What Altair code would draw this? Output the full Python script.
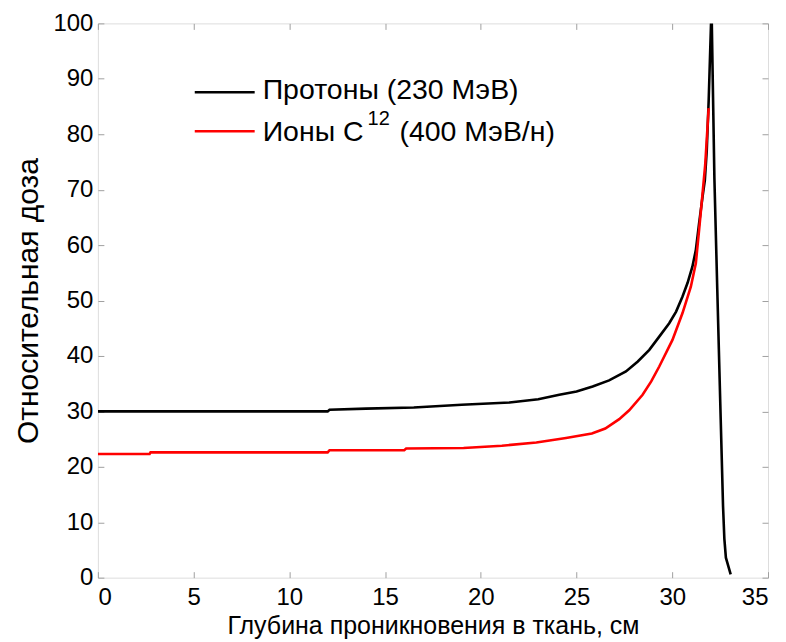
import altair as alt
import pandas as pd

# Protons (230 MeV) — depth (cm) vs relative dose
proton_x = [0, 12.0, 12.1, 14.0, 16.5, 19.0, 21.5, 23.0, 24.1, 25.0, 25.84, 26.7, 27.58, 28.2,
            28.8, 29.3, 29.84, 30.2, 30.53, 30.8, 31.05, 31.23, 31.4, 31.58, 31.7, 31.8,
            31.9, 32.05, 32.2, 32.35, 32.53, 32.65, 32.72, 32.8, 33.05]
proton_y = [30.0, 30.0, 30.3, 30.5, 30.7, 31.2, 31.6, 32.2, 33.0, 33.6, 34.5, 35.6, 37.2, 39.0,
            41.1, 43.4, 45.9, 48.0, 50.7, 53.2, 56.1, 59.1, 63.9, 68.7, 71.7, 77.0,
            86.0, 103.0, 72.0, 52.0, 28.5, 13.0, 7.0, 3.6, 0.6]

# Carbon ions C12 (400 MeV/n)
carbon_x = [0, 2.7, 2.75, 12.0, 12.1, 16.0, 16.1, 19.1, 21.1, 22.9, 24.45, 25.8, 26.5, 27.23,
            27.75, 28.45, 28.9, 29.32, 30.01, 30.53, 30.97, 31.23, 31.4, 31.58, 31.72, 31.9]
carbon_y = [22.3, 22.3, 22.6, 22.6, 23.0, 23.0, 23.3, 23.4, 23.8, 24.4, 25.2, 26.0, 26.9, 28.6,
            30.2, 33.0, 35.4, 38.1, 42.9, 47.7, 52.5, 56.7, 62.7, 69.3, 74.5, 84.7]

series_names = ["Протоны (230 МэВ)", "Ионы C12 (400 МэВ/н)"]
series_colors = ["#000000", "#ff0000"]
legend_parts = [["Протоны (230 МэВ)"], ["Ионы C", "12", "(400 МэВ/н)"]]

x_ticks = [0, 5, 10, 15, 20, 25, 30, 35]
y_ticks = [0, 10, 20, 30, 40, 50, 60, 70, 80, 90, 100]

df = pd.concat([
    pd.DataFrame({"x": proton_x, "y": proton_y, "s": series_names[0], "o": range(len(proton_x))}),
    pd.DataFrame({"x": carbon_x, "y": carbon_y, "s": series_names[1], "o": range(len(carbon_x))}),
])

FONT = "Liberation Sans"
TICK_GRAY = "#a0a0a0"

xscale = alt.Scale(domain=[0, 35], nice=False, zero=False)
yscale = alt.Scale(domain=[0, 100], nice=False)

lines = alt.Chart(df).mark_line(strokeWidth=2.6, clip=True).encode(
    x=alt.X("x:Q", scale=xscale,
            axis=alt.Axis(orient="bottom", values=x_ticks, offset=-6, tickSize=6,
                          domain=False, grid=False, tickColor=TICK_GRAY,
                          labelPadding=8, labelFontSize=24, labelFont=FONT, labelColor="black",
                          title="Глубина проникновения в ткань, см", titleFont=FONT,
                          titleFontSize=25, titleFontWeight="normal", titleColor="black",
                          titlePadding=4)),
    y=alt.Y("y:Q", scale=yscale,
            axis=alt.Axis(orient="left", values=y_ticks, offset=-6, tickSize=6,
                          domain=False, grid=False, tickColor=TICK_GRAY,
                          labelPadding=5, labelFontSize=24, labelFont=FONT, labelColor="black",
                          title="Относительная доза", titleFont=FONT,
                          titleFontSize=30, titleFontWeight="normal", titleColor="black",
                          titlePadding=9)),
    color=alt.Color("s:N", scale=alt.Scale(domain=series_names, range=series_colors), legend=None),
    detail="s:N",
    order="o:Q",
)

frame_axes = alt.Chart(df).mark_line(opacity=0).encode(
    x=alt.X("x:Q", scale=xscale,
            axis=alt.Axis(orient="top", values=x_ticks, offset=-6, tickSize=6, domain=False,
                          grid=False, labels=False, title=None, tickColor=TICK_GRAY)),
    y=alt.Y("y:Q", scale=yscale,
            axis=alt.Axis(orient="right", values=y_ticks, offset=-6, tickSize=6, domain=False,
                          grid=False, labels=False, title=None, tickColor=TICK_GRAY)),
    detail="s:N",
)

one = pd.DataFrame({"a": [0]})


def leg_line(col, yy):
    return alt.Chart(one).mark_rule(color=col, strokeWidth=2.6).encode(
        x=alt.value(97), x2=alt.value(157), y=alt.value(yy))


def leg_text(txt, xx, yy, size):
    return alt.Chart(one).mark_text(
        align="left", baseline="alphabetic", font=FONT, fontSize=size, color="black").encode(
        x=alt.value(xx), y=alt.value(yy), text=alt.value(txt))


legend_layers = [
    leg_line(series_colors[0], 69),
    leg_text(legend_parts[0][0], 165, 76, 28.5),
    leg_line(series_colors[1], 108),
    leg_text(legend_parts[1][0], 165, 118, 28.5),
    leg_text(legend_parts[1][1], 270, 102, 20),
    leg_text(legend_parts[1][2], 302, 118, 28.5),
]

chart = alt.layer(lines, frame_axes, *legend_layers).resolve_axis(
    x="independent", y="independent"
).properties(
    width=671, height=555,
    autosize=alt.AutoSizeParams(type="none"),
    padding={"left": 90, "top": 15, "right": 10, "bottom": 62},
).configure_view(stroke="#909090", strokeWidth=1.2).configure(background="white")

chart.save("out.html", embed_options={"renderer": "svg", "actions": False})
